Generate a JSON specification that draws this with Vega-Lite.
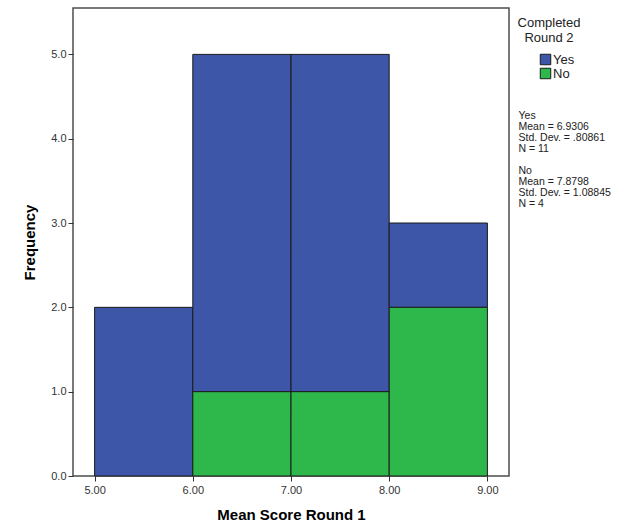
{
  "$schema": "https://vega.github.io/schema/vega-lite/v6.json",
  "autosize": {"type": "none"},
  "padding": {"left": 73, "top": 8, "right": 114, "bottom": 50},
  "width": 436,
  "height": 468,
  "background": "white",
  "config": {
    "font": "Liberation Sans",
    "view": {"fill": "#f0f0f0", "stroke": "#4d4d4d", "strokeWidth": 1.5}
  },
  "datasets": {
    "bins": [
      {"bin_start": 5, "bin_end": 6, "group": "Yes", "count": 2},
      {"bin_start": 6, "bin_end": 7, "group": "Yes", "count": 4},
      {"bin_start": 6, "bin_end": 7, "group": "No", "count": 1},
      {"bin_start": 7, "bin_end": 8, "group": "Yes", "count": 4},
      {"bin_start": 7, "bin_end": 8, "group": "No", "count": 1},
      {"bin_start": 8, "bin_end": 9, "group": "Yes", "count": 1},
      {"bin_start": 8, "bin_end": 9, "group": "No", "count": 2}
    ],
    "stats": [
      {"line": "Yes"},
      {"line": "Mean = 6.9306"},
      {"line": "Std. Dev. = .80861"},
      {"line": "N = 11"},
      {"line": " "},
      {"line": "No"},
      {"line": "Mean = 7.8798"},
      {"line": "Std. Dev. = 1.08845"},
      {"line": "N = 4"}
    ]
  },
  "layer": [
    {
      "data": {"name": "bins"},
      "transform": [
        {"stack": "count", "groupby": ["bin_start"], "sort": [{"field": "group", "order": "ascending"}], "as": ["c0", "c1"]}
      ],
      "mark": {"type": "bar", "stroke": "#1a1a1a", "strokeWidth": 1, "opacity": 1},
      "encoding": {
        "x": {
          "field": "bin_start", "type": "quantitative",
          "scale": {"domain": [4.78, 9.22], "nice": false, "zero": false},
          "axis": {
            "values": [5, 6, 7, 8, 9], "format": ".2f", "grid": false, "domain": false,
            "tickSize": 5, "tickColor": "#333", "labelFontSize": 11, "labelColor": "#333", "labelPadding": 3,
            "title": "Mean Score Round 1", "titleFontSize": 15, "titleFontWeight": "bold", "titleColor": "#000", "titlePadding": 12
          }
        },
        "x2": {"field": "bin_end"},
        "y": {
          "field": "c0", "type": "quantitative",
          "scale": {"domain": [0, 5.55], "nice": false},
          "axis": {
            "values": [0, 1, 2, 3, 4, 5], "format": ".1f", "grid": false, "domain": false,
            "tickSize": 5, "tickColor": "#333", "labelFontSize": 11, "labelColor": "#333", "labelPadding": 2,
            "title": "Frequency", "titleFontSize": 15, "titleFontWeight": "bold", "titleColor": "#000", "titlePadding": 13
          }
        },
        "y2": {"field": "c1"},
        "color": {
          "field": "group", "type": "nominal",
          "scale": {"domain": ["Yes", "No"], "range": ["#3e56a8", "#2eb84b"]},
          "legend": {
            "orient": "none", "legendX": 445, "legendY": 9,
            "title": ["Completed", "Round 2"],
            "titleAnchor": "middle", "titleAlign": "center",
            "titleFontSize": 13, "titleFontWeight": "normal", "titleColor": "#222", "titleLineHeight": 15, "titlePadding": 8,
            "symbolType": "square", "symbolSize": 110, "symbolStrokeColor": "#1a1a1a", "symbolStrokeWidth": 1, "symbolOpacity": 1,
            "symbolOffset": 15, "labelFontSize": 13, "labelColor": "#222", "labelOffset": 1, "rowPadding": -5
          }
        }
      }
    },
    {
      "data": {"name": "stats"},
      "mark": {"type": "point", "opacity": 0},
      "encoding": {
        "shape": {
          "field": "line", "type": "nominal", "sort": null,
          "legend": {
            "orient": "none", "legendX": 435, "legendY": 103, "title": null,
            "symbolSize": 0, "symbolOpacity": 0, "symbolStrokeWidth": 0, "symbolOffset": 0,
            "labelOffset": 0, "labelFontSize": 10.5, "labelColor": "#222", "rowPadding": 0, "labelLimit": 200
          }
        }
      }
    }
  ]
}
